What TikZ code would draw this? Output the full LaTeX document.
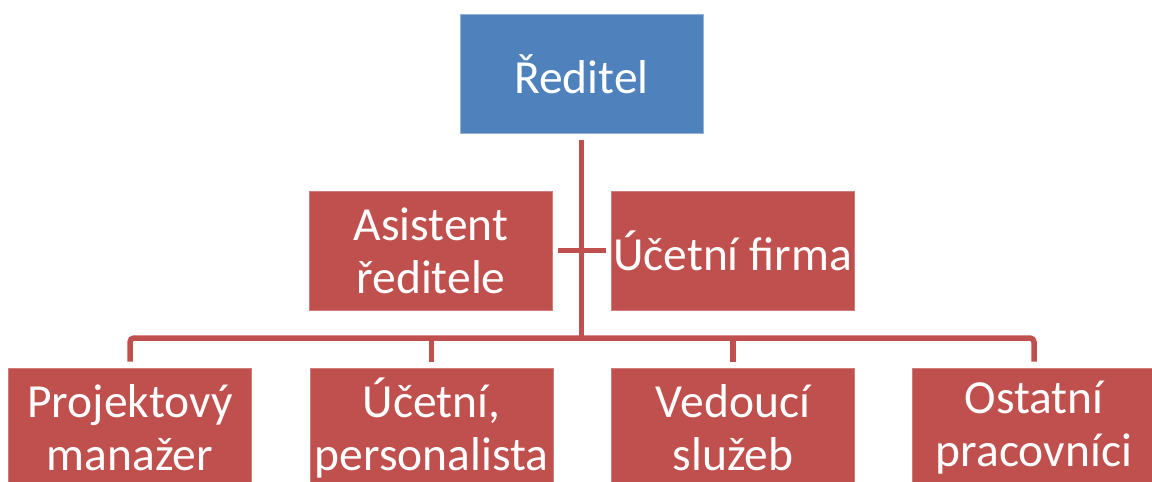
\documentclass[tikz,border=0pt]{standalone}
\usepackage{fontspec}
\setmainfont{Carlito}
\definecolor{orgblue}{HTML}{4F81BD}
\definecolor{orgred}{HTML}{C0504D}
\tikzset{
  x=1pt, y=-1pt,
  unit/.style={rectangle, minimum width=243pt, minimum height=119pt, inner sep=0pt,
    align=center, text=white, font=\fontsize{47.5}{53}\selectfont},
  headbox/.style={unit, fill=orgblue, draw=orgblue!60!white, line width=0.8pt},
  redbox/.style={unit, fill=orgred, draw=orgred!75!white, line width=0.6pt},
  conn/.style={draw=orgred, line width=5.5pt}
}
\begin{document}
\begin{tikzpicture}
  \useasboundingbox (0,0) rectangle (1152,482);
  \clip (0,0) rectangle (1152,482);

  % top manager
  \node[headbox] (dir) at (581.5,74) {Ředitel};

  % staff positions beside the main line
  \node[redbox] (asst) at (431,250.5) {Asistent\\ředitele};
  \node[redbox] (firm) at (732.5,250.5) {Účetní firma};

  % subordinate units
  \node[redbox] (pm)  at (130,427.5)  {Projektový\\manažer};
  \node[redbox] (acc) at (431.5,427.5) {Účetní,\\personalista};
  \node[redbox] (srv) at (733,427.5)  {Vedoucí\\služeb};
  \node[redbox] (oth) at (1034,427.5) {Ostatní\\pracovníci};

  % distribution bus
  \coordinate (bus) at (582,338);

  % connectors
  \draw[conn, shorten <=6pt] (dir.south) -- (dir.south |- bus);
  \draw[conn, shorten <=5pt, shorten >=5pt] (asst.east) -- (firm.west);
  \draw[conn, rounded corners=4pt, shorten <=6pt, shorten >=6pt]
    (pm.north) -- (pm.north |- bus) -- (oth.north |- bus) -- (oth.north);
  \draw[conn, shorten >=6pt] (acc.north |- bus) -- (acc.north);
  \draw[conn, shorten >=6pt] (srv.north |- bus) -- (srv.north);
\end{tikzpicture}
\end{document}
